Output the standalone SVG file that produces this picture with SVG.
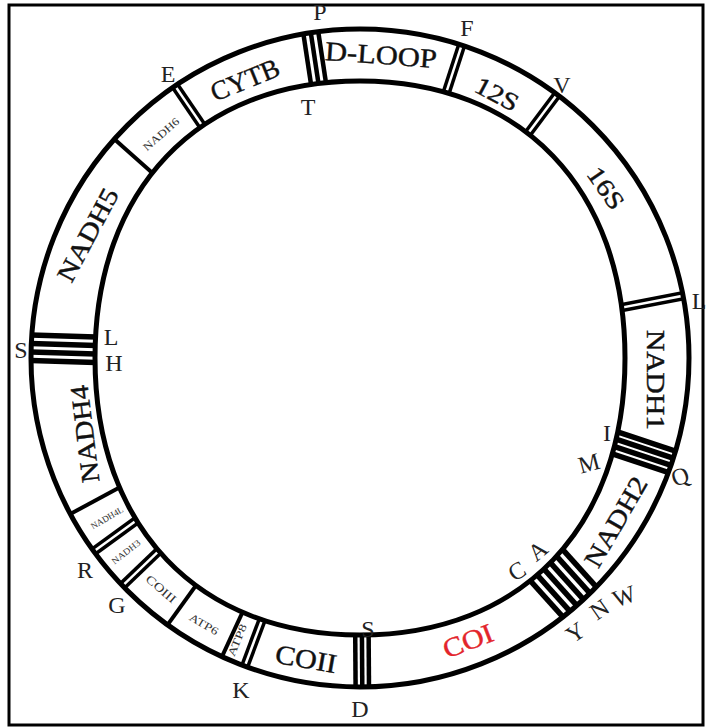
<svg xmlns="http://www.w3.org/2000/svg" width="710" height="728" viewBox="0 0 710 728">
<style>
.ring{fill:none;stroke:#000;stroke-width:5}
.sep line{stroke:#000}
.w5 line{stroke-width:4.5}
.w6 line{stroke-width:5.5}
.dbl line{stroke-width:3.5}
.sgl line{stroke-width:4}
.seg{font-family:"Liberation Serif","DejaVu Serif",serif;fill:#111;text-anchor:middle;dominant-baseline:central;stroke:#111;stroke-width:0.4}
.small{fill:#333;stroke:none}
.trna{font-family:"Liberation Serif","DejaVu Serif",serif;font-size:24px;fill:#222;text-anchor:middle}
</style>
<defs>
<clipPath id="ringClip">
<path clip-rule="evenodd" d="M31,358 a329,329 0 1,0 658,0 a329,329 0 1,0 -658,0 Z M360,81 C521.65,81 625,189.03 625,358 C625,526.97 521.65,635 360,635 C198.35,635 95,526.97 95,358 C95,189.03 198.35,81 360,81 Z"/>
</clipPath>
</defs>
<rect x="0" y="0" width="710" height="728" fill="#fff"/>
<rect x="9" y="5" width="694" height="720" fill="none" stroke="#000" stroke-width="3"/>

<g id="connectors" clip-path="url(#ringClip)" class="sep">
  <g class="w5" transform="rotate(351.4 360 358)"><line x1="352.5" y1="13" x2="352.5" y2="118"/><line x1="360" y1="13" x2="360" y2="118"/><line x1="367.5" y1="13" x2="367.5" y2="118"/></g>
  <g class="dbl" transform="rotate(18 360 358)"><line x1="357" y1="13" x2="357" y2="118"/><line x1="363" y1="13" x2="363" y2="118"/></g>
  <g class="dbl" transform="rotate(36.8 360 358)"><line x1="357" y1="13" x2="357" y2="118"/><line x1="363" y1="13" x2="363" y2="118"/></g>
  <g class="dbl" transform="rotate(79.1 360 358)"><line x1="357" y1="13" x2="357" y2="118"/><line x1="363" y1="13" x2="363" y2="118"/></g>
  <g class="w6" transform="rotate(108.4 360 358)"><line x1="348.75" y1="13" x2="348.75" y2="118"/><line x1="356.25" y1="13" x2="356.25" y2="118"/><line x1="363.75" y1="13" x2="363.75" y2="118"/><line x1="371.25" y1="13" x2="371.25" y2="118"/></g>
  <g class="w6" transform="rotate(138 360 358)"><line x1="337.5" y1="13" x2="337.5" y2="118"/><line x1="346.5" y1="13" x2="346.5" y2="118"/><line x1="355.5" y1="13" x2="355.5" y2="118"/><line x1="364.5" y1="13" x2="364.5" y2="118"/><line x1="373.5" y1="13" x2="373.5" y2="118"/><line x1="382.5" y1="13" x2="382.5" y2="118"/></g>
  <g class="w5" transform="rotate(179.6 360 358)"><line x1="353.3" y1="13" x2="353.3" y2="118"/><line x1="360" y1="13" x2="360" y2="118"/><line x1="366.7" y1="13" x2="366.7" y2="118"/></g>
  <g class="dbl" transform="rotate(200.5 360 358)"><line x1="357" y1="13" x2="357" y2="118"/><line x1="363" y1="13" x2="363" y2="118"/></g>
  <g class="sgl" transform="rotate(204.8 360 358)"><line x1="360" y1="13" x2="360" y2="118"/></g>
  <g class="sgl" transform="rotate(215.8 360 358)"><line x1="360" y1="13" x2="360" y2="118"/></g>
  <g class="dbl" transform="rotate(226.2 360 358)"><line x1="357" y1="13" x2="357" y2="118"/><line x1="363" y1="13" x2="363" y2="118"/></g>
  <g class="dbl" transform="rotate(234 360 358)"><line x1="357" y1="13" x2="357" y2="118"/><line x1="363" y1="13" x2="363" y2="118"/></g>
  <g class="sgl" transform="rotate(241.7 360 358)"><line x1="360" y1="13" x2="360" y2="118"/></g>
  <g class="w6" transform="rotate(271.8 360 358)"><line x1="347.25" y1="13" x2="347.25" y2="118"/><line x1="355.75" y1="13" x2="355.75" y2="118"/><line x1="364.25" y1="13" x2="364.25" y2="118"/><line x1="372.75" y1="13" x2="372.75" y2="118"/></g>
  <g class="sgl" transform="rotate(311.7 360 358)"><line x1="360" y1="13" x2="360" y2="118"/></g>
  <g class="dbl" transform="rotate(325.8 360 358)"><line x1="357" y1="13" x2="357" y2="118"/><line x1="363" y1="13" x2="363" y2="118"/></g>
</g>

<g id="ring">
  <circle class="ring" cx="360" cy="358" r="329"/>
  <path class="ring" d="M360,81 C521.65,81 625,189.03 625,358 C625,526.97 521.65,635 360,635 C198.35,635 95,526.97 95,358 C95,189.03 198.35,81 360,81 Z"/>
</g>

<g id="seg-dloop"><text class="seg" font-size="27" textLength="112" lengthAdjust="spacingAndGlyphs" transform="translate(381 55) rotate(4)">D-LOOP</text></g>
<g id="seg-12s"><text class="seg" font-size="25" textLength="46" lengthAdjust="spacingAndGlyphs" transform="translate(497 94) rotate(28)">12S</text></g>
<g id="seg-16s"><text class="seg" font-size="25" textLength="46" lengthAdjust="spacingAndGlyphs" transform="translate(606 188) rotate(55)">16S</text></g>
<g id="seg-nadh1"><text class="seg" font-size="26" textLength="100" lengthAdjust="spacingAndGlyphs" transform="translate(655 380) rotate(90)">NADH1</text></g>
<g id="seg-nadh2"><text class="seg" font-size="26" textLength="100" lengthAdjust="spacingAndGlyphs" transform="translate(616 522) rotate(-60)">NADH2</text></g>
<g id="seg-coi"><text class="seg" font-size="27" textLength="52" lengthAdjust="spacingAndGlyphs" style="fill:#e3242b;stroke:#e3242b" transform="translate(468 641) rotate(-21)">COI</text></g>
<g id="seg-coii"><text class="seg" font-size="27" textLength="62" lengthAdjust="spacingAndGlyphs" transform="translate(306 659) rotate(10)">COII</text></g>
<g id="seg-atp8"><text class="seg small" font-size="11" textLength="34" lengthAdjust="spacingAndGlyphs" transform="translate(237 640) rotate(-68)">ATP8</text></g>
<g id="seg-atp6"><text class="seg small" font-size="11" textLength="32" lengthAdjust="spacingAndGlyphs" transform="translate(204 624) rotate(30)">ATP6</text></g>
<g id="seg-coiii"><text class="seg small" font-size="12" textLength="36" lengthAdjust="spacingAndGlyphs" transform="translate(161 589) rotate(41)">COIII</text></g>
<g id="seg-nadh3"><text class="seg small" font-size="9" textLength="34" lengthAdjust="spacingAndGlyphs" transform="translate(126 552) rotate(-38)">NADH3</text></g>
<g id="seg-nadh4l"><text class="seg small" font-size="9" textLength="36" lengthAdjust="spacingAndGlyphs" transform="translate(107 518) rotate(-30)">NADH4L</text></g>
<g id="seg-nadh4"><text class="seg" font-size="26" textLength="98" lengthAdjust="spacingAndGlyphs" transform="translate(85 434) rotate(-97)">NADH4</text></g>
<g id="seg-nadh5"><text class="seg" font-size="26" textLength="102" lengthAdjust="spacingAndGlyphs" transform="translate(88 235) rotate(-62)">NADH5</text></g>
<g id="seg-nadh6"><text class="seg small" font-size="11" textLength="44" lengthAdjust="spacingAndGlyphs" transform="translate(161 134) rotate(-41)">NADH6</text></g>
<g id="seg-cytb"><text class="seg" font-size="27" textLength="72" lengthAdjust="spacingAndGlyphs" transform="translate(245 80) rotate(-22)">CYTB</text></g>

<g id="trna-labels">
  <text class="trna" x="320" y="20">P</text>
  <text class="trna" x="308" y="115">T</text>
  <text class="trna" x="467" y="36">F</text>
  <text class="trna" x="562" y="93">V</text>
  <text class="trna" x="168" y="82">E</text>
  <text class="trna" x="699" y="309">L</text>
  <text class="trna" x="607" y="441">I</text>
  <text class="trna" transform="translate(591 471) rotate(-15)">M</text>
  <text class="trna" transform="translate(683 484) rotate(-20)">Q</text>
  <text class="trna" transform="translate(521 578) rotate(-30)">C</text>
  <text class="trna" transform="translate(543 557) rotate(-40)">A</text>
  <text class="trna" transform="translate(627 604) rotate(-20)">W</text>
  <text class="trna" transform="translate(604 616) rotate(-35)">N</text>
  <text class="trna" transform="translate(580 639) rotate(-35)">Y</text>
  <text class="trna" x="368" y="637">S</text>
  <text class="trna" x="360" y="717">D</text>
  <text class="trna" x="241" y="698">K</text>
  <text class="trna" x="117" y="613">G</text>
  <text class="trna" x="85" y="578">R</text>
  <text class="trna" x="21" y="358">S</text>
  <text class="trna" x="111" y="345">L</text>
  <text class="trna" x="114" y="371">H</text>
</g>
</svg>
